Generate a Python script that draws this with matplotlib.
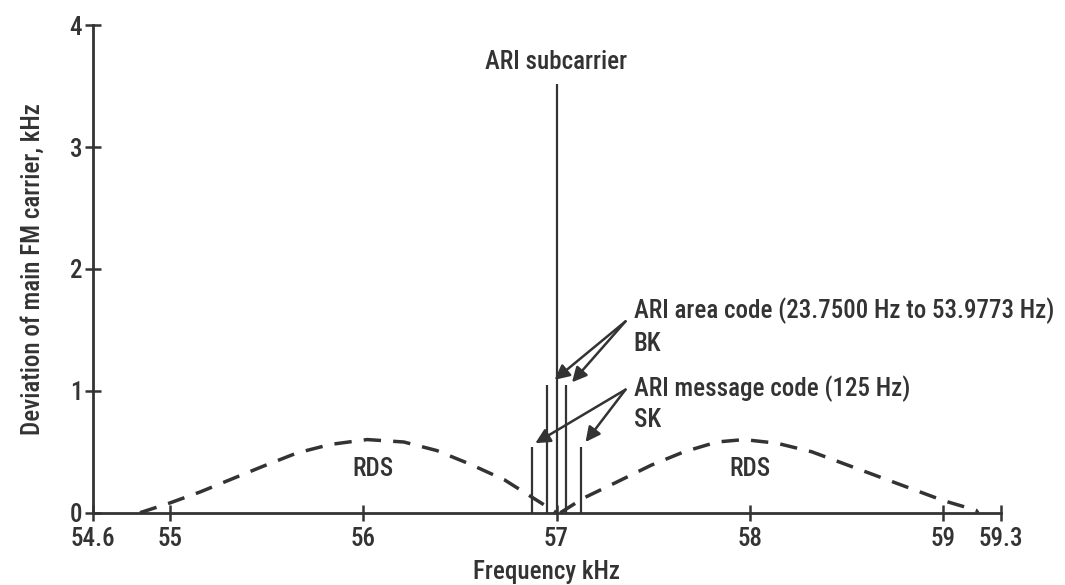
"""
ARI / RDS spectrum around the 57 kHz subcarrier.
"""

import matplotlib
matplotlib.use("Agg")
import matplotlib.pyplot as plt
from matplotlib import font_manager

# RDS humps, kHz vs kHz deviation
rds_left_f = [54.845, 55.0, 55.156, 55.31, 55.48, 55.657, 55.83, 56.02,
              56.21, 56.38, 56.55, 56.73, 56.88, 56.98, 57.0]
rds_left_dev = [0.0, 0.08, 0.17, 0.27, 0.38, 0.49, 0.56, 0.60,
                0.58, 0.51, 0.40, 0.27, 0.12, 0.02, 0.0]
rds_right_f = [57.02, 57.14, 57.31, 57.49, 57.66, 57.83, 57.97, 58.14,
               58.32, 58.49, 58.66, 58.83, 59.0, 59.17, 59.18]
rds_right_dev = [0.0, 0.12, 0.25, 0.39, 0.50, 0.58, 0.60, 0.57,
                 0.50, 0.40, 0.30, 0.20, 0.10, 0.02, 0.0]

# ARI spectral lines
carrier_f = 57.0
carrier_dev = 3.52
bk_f = [56.95, 57.05]
bk_dev = [1.05, 1.05]
sk_f = [56.875, 57.125]
sk_dev = [0.54, 0.54]

x_ticks = [54.6, 55, 56, 57, 58, 59, 59.3]
x_tick_labels = ["54.6", "55", "56", "57", "58", "59", "59.3"]
y_ticks = [0, 1, 2, 3, 4]


def pick_font():
    for name in ["Liberation Sans Narrow", "DejaVu Sans Condensed", "Roboto Condensed",
                 "Liberation Sans", "DejaVu Sans"]:
        try:
            font_manager.findfont(name, fallback_to_default=False)
            return name
        except Exception:
            continue
    return "DejaVu Sans"


def main():
    ink = "#333333"
    plt.rcParams["font.family"] = pick_font()
    plt.rcParams["font.size"] = 18
    plt.rcParams["font.weight"] = "medium"
    plt.rcParams["axes.labelweight"] = "medium"

    fig = plt.figure(figsize=(10.65, 5.85), dpi=100)
    ax = fig.add_axes([0.087, 0.1236, 0.853, 0.8334])

    ax.plot(rds_left_f, rds_left_dev, color=ink, lw=2.5, dashes=(5, 3.5))
    ax.plot(rds_right_f, rds_right_dev, color=ink, lw=2.5, dashes=(5, 3.5))

    ax.vlines([carrier_f], 0, [carrier_dev], color=ink, lw=1.6)
    ax.vlines(bk_f, 0, bk_dev, color=ink, lw=1.6)
    ax.vlines(sk_f, 0, sk_dev, color=ink, lw=1.6)

    ax.text(carrier_f, 3.70, "ARI subcarrier", ha="center", va="center", color=ink)
    ax.text(56.05, 0.36, "RDS", ha="center", va="center", color=ink)
    ax.text(58.0, 0.36, "RDS", ha="center", va="center", color=ink)

    ax.text(57.40, 1.66, "ARI area code (23.7500 Hz to 53.9773 Hz)", ha="left",
            va="center", color=ink)
    ax.text(57.40, 1.38, "BK", ha="left", va="center", color=ink)
    ax.text(57.40, 1.02, "ARI message code (125 Hz)", ha="left", va="center", color=ink)
    ax.text(57.40, 0.76, "SK", ha="left", va="center", color=ink)

    arrow = dict(arrowstyle="-|>", color=ink, lw=1.8, mutation_scale=22,
                 shrinkA=0, shrinkB=0)
    for tip in [(56.99, 1.09), (57.08, 1.07)]:
        ax.annotate("", xy=tip, xytext=(57.357, 1.57), arrowprops=arrow)
    for tip in [(56.89, 0.57), (57.15, 0.58)]:
        ax.annotate("", xy=tip, xytext=(57.357, 1.01), arrowprops=arrow)

    ax.set_xlim(54.6, 59.3)
    ax.set_ylim(0, 4)
    ax.set_xticks(x_ticks)
    ax.set_xticklabels(x_tick_labels)
    ax.set_yticks(y_ticks)

    for side in ["top", "right"]:
        ax.spines[side].set_visible(False)
    for side in ["left", "bottom"]:
        ax.spines[side].set_color(ink)
        ax.spines[side].set_linewidth(2.0)
    ax.tick_params(direction="inout", length=11, width=1.8, color=ink,
                   labelcolor=ink, labelsize=18)
    ax.tick_params(axis="x", pad=5)
    ax.tick_params(axis="y", pad=2)

    ax.set_xlabel("Frequency kHz", color=ink, fontsize=18, fontweight="medium",
                  labelpad=6)
    ax.set_ylabel("Deviation of main FM carrier, kHz", color=ink, fontsize=18,
                  fontweight="medium", labelpad=18)

    fig.savefig("out.png", dpi=100)
    plt.close(fig)


if __name__ == "__main__":
    main()
